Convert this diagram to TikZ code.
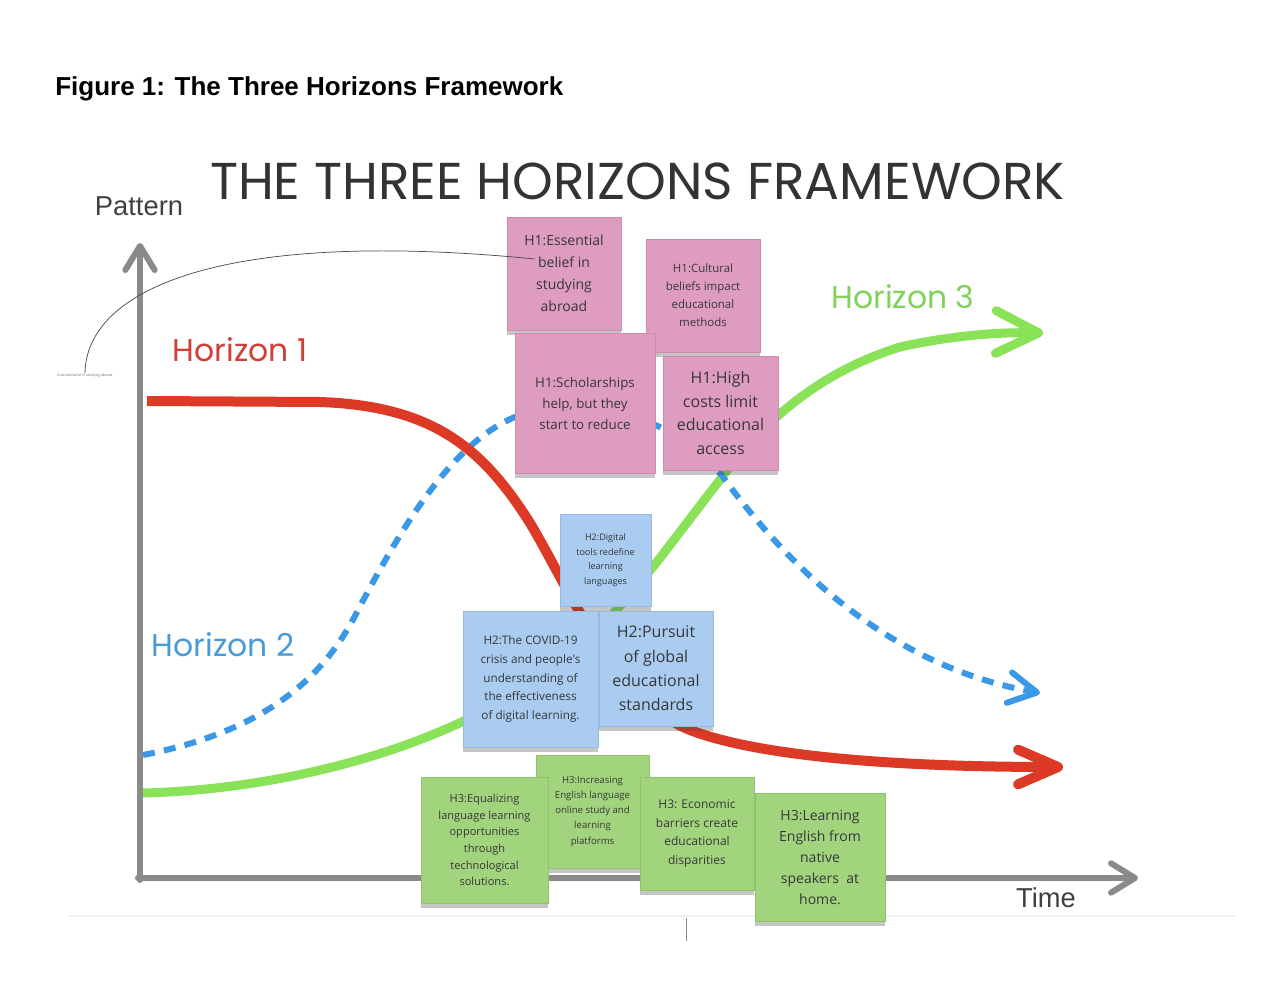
\documentclass[tikz,border=0pt]{standalone}
\usepackage{fontspec}
\setmainfont{Liberation Sans}
\newfontfamily\osans{Open Sans}
\newfontfamily\pop{Poppins}
\usetikzlibrary{arrows.meta,shadows}
\definecolor{pinkn}{RGB}{223,156,193}
\definecolor{pinkb}{RGB}{208,138,176}
\definecolor{bluen}{RGB}{170,204,240}
\definecolor{blueb}{RGB}{150,186,226}
\definecolor{greenn}{RGB}{162,212,126}
\definecolor{greenb}{RGB}{142,196,106}
\definecolor{notetxt}{RGB}{55,55,55}
\definecolor{hred}{RGB}{220,58,38}
\definecolor{hredt}{RGB}{208,62,56}
\definecolor{hblue}{RGB}{58,152,230}
\definecolor{hbluet}{RGB}{74,154,216}
\definecolor{hgreen}{RGB}{138,226,88}
\definecolor{hgreent}{RGB}{128,210,90}
\definecolor{axisg}{RGB}{138,138,138}
\tikzset{
  note/.style={inner sep=0pt, align=center, text=notetxt, font=\osans,
    drop shadow={shadow xshift=0pt, shadow yshift=-4pt, opacity=0.3, fill=black!75}},
  pinknote/.style={note, fill=pinkn, draw=pinkb, line width=0.4pt},
  bluenote/.style={note, fill=bluen, draw=blueb, line width=0.4pt},
  greennote/.style={note, fill=greenn, draw=greenb, line width=0.4pt},
  axisline/.style={draw=axisg, line width=4.5pt, line cap=round,
    -{Straight Barb[length=18pt, width=22pt, round]}},
  hlabel/.style={font=\pop\fontsize{23.6}{26}\selectfont, inner sep=0pt}
}
\begin{document}
\begin{tikzpicture}[x=0.75pt,y=-0.75pt]
\useasboundingbox (0,0) rectangle (1280,998);
\fill[white] (0,0) rectangle (1280,998);

% caption and title
\node[anchor=west, inner sep=0pt, font=\bfseries\fontsize{19.5}{22}\selectfont] (cap) at (55,89) {Figure 1: The Three Horizons Framework};
\node[inner sep=0pt, text=black!80] (title) at (637.5,181) {\resizebox{641pt}{!}{\pop THE THREE HORIZONS FRAMEWORK}};
\node[inner sep=0pt, font=\fontsize{20.5}{24}\selectfont, text=black!75] (pattern) at (139,206) {Pattern};
\node[inner sep=0pt, font=\fontsize{20.5}{24}\selectfont, text=black!75] (time) at (1046,898) {Time};

% faint lines at bottom
\draw[black!6, line width=0.8pt] (68,916) -- (1235,916);
\draw[black!45, line width=0.6pt] (686,918) -- (686,941);

% axes
\coordinate (origin) at (140,878);
\coordinate (ytop) at (140,243);
\coordinate (xend) at (1138,878);
\draw[axisline] (140,880) -- (ytop);
\draw[axisline] (138,878) -- (xend);

% horizon labels
\node[hlabel, text=hredt] (h1) at (240,350) {Horizon 1};
\node[hlabel, text=hbluet] (h2) at (223,645) {Horizon 2};
\node[hlabel, text=hgreent] (h3) at (903,297) {Horizon 3};

% curves
\coordinate (g0) at (143,793);
\coordinate (g1) at (1043,333);
\draw[hgreen, line width=6.75pt, -{Straight Barb[length=32pt, width=32pt, round]}]
  (g0) .. controls (260,790) and (380,762) .. (470,718)
  .. controls (560,675) and (610,622) .. (660,558)
  -- (722,477) .. controls (765,420) and (820,372) .. (900,347)
  .. controls (950,336) and (995,332) .. (g1);

\coordinate (b0) at (143,755);
\coordinate (b1) at (1040,693);
\draw[hblue, line width=4.5pt, dash pattern=on 9pt off 7pt, -{Straight Barb[length=21pt, width=23pt, round]}]
  (b0) .. controls (262,732) and (322,680) .. (356,614)
  .. controls (400,530) and (452,440) .. (520,415)
  .. controls (585,390) and (680,420) .. (723,477)
  .. controls (780,555) and (880,665) .. (b1);

\coordinate (r0) at (147,401);
\coordinate (r1) at (1063,767);
\draw[hred, line width=7.5pt, -{Straight Barb[length=30pt, width=26pt, round]}]
  (r0) -- (320,402) .. controls (432,406) and (482,447) .. (530,523)
  .. controls (570,590) and (615,700) .. (690,730)
  .. controls (760,757) and (900,767) .. (r1);

% pink notes (Horizon 1)
\node[pinknote, minimum width=85.5pt, minimum height=84.75pt, font=\osans\fontsize{10.5}{16.5}\selectfont] (n1) at (564,273.5)
  {H1:Essential\\belief in\\studying\\abroad};
\node[pinknote, minimum width=85.5pt, minimum height=84.75pt, font=\osans\fontsize{8.6}{13.5}\selectfont] (n2) at (703,295.5)
  {H1:Cultural\\beliefs impact\\educational\\methods};
\node[pinknote, minimum width=105pt, minimum height=105pt, font=\osans\fontsize{10}{15.75}\selectfont] (n3) at (585,403)
  {H1:Scholarships\\help, but they\\start to reduce};
\node[pinknote, minimum width=86.25pt, minimum height=85.5pt, font=\osans\fontsize{12}{17.6}\selectfont] (n4) at (720.5,413)
  {H1:High\\costs limit\\educational\\access};

% blue notes (Horizon 2)
\node[bluenote, minimum width=68.25pt, minimum height=69pt, font=\osans\fontsize{6.8}{11}\selectfont] (n5) at (605.5,560)
  {H2:Digital\\tools redefine\\learning\\languages};
\node[bluenote, minimum width=101.25pt, minimum height=102pt, font=\osans\fontsize{8.8}{14}\selectfont] (n6) at (530.5,679)
  {H2:The COVID-19\\crisis and people's\\understanding of\\the effectiveness\\of digital learning.};
\node[bluenote, minimum width=85.5pt, minimum height=86.25pt, font=\osans\fontsize{12}{18.2}\selectfont] (n7) at (656,668.5)
  {H2:Pursuit\\of global\\educational\\standards};

% green notes (Horizon 3)
\node[greennote, minimum width=84.75pt, minimum height=84.75pt, font=\osans\fontsize{7.2}{11.3}\selectfont] (n9) at (592.5,811.5)
  {H3:Increasing\\English language\\online study and\\learning\\platforms};
\node[greennote, minimum width=95.25pt, minimum height=94.5pt, font=\osans\fontsize{8.3}{12.5}\selectfont] (n8) at (484.5,840)
  {H3:Equalizing\\language learning\\opportunities\\through\\technological\\solutions.};
\node[greennote, minimum width=85.5pt, minimum height=84.75pt, font=\osans\fontsize{9}{14}\selectfont] (n10) at (697,833.5)
  {H3: Economic\\barriers create\\educational\\disparities};
\node[greennote, minimum width=97.5pt, minimum height=96pt, font=\osans\fontsize{10.5}{15.75}\selectfont] (n11) at (820,857)
  {H3:Learning\\English from\\native\\speakers\ \ at\\home.};

% small connector label and connector to first note
\node[inner sep=0.5pt, font=\osans\fontsize{2.6}{3}\selectfont, text=black!60] (lbl) at (85,376) {Essential belief in studying abroad};
\coordinate (c1) at (535,259);
\draw[black!70, line width=0.55pt] (lbl.north) .. controls (86,290) and (220,228) .. (c1);
\end{tikzpicture}
\end{document}
